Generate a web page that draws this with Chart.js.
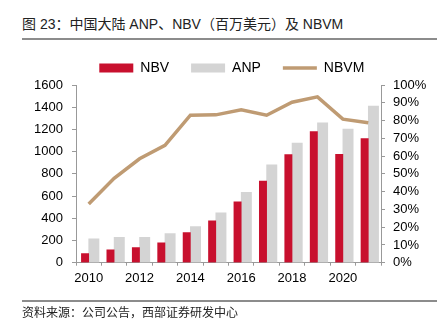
<!DOCTYPE html>
<html>
<head>
<meta charset="utf-8">
<script src="https://cdn.jsdelivr.net/npm/chart.js@4/dist/chart.umd.min.js"></script>
<style>
  html, body { margin: 0; padding: 0; background: #fff; }
  #wrap { position: relative; width: 446px; height: 334px; overflow: hidden; }
  #c { position: absolute; left: 0; top: 0; }
  .title { position: absolute; left: 22px; top: 16px; font: 14px "Liberation Sans", "Noto Sans CJK SC", sans-serif; line-height: 16px; color: #222; white-space: nowrap; }
  .rule { position: absolute; left: 22px; width: 415px; height: 2px; background: #8c8c8c; }
  .source { position: absolute; left: 22px; top: 305px; font: 12px "Liberation Sans", "Noto Sans CJK SC", sans-serif; line-height: 16px; color: #222; white-space: nowrap; }
</style>
</head>
<body>
<div id="wrap">
  <div class="title">图 23：中国大陆 ANP、NBV（百万美元）及 NBVM</div>
  <div class="rule" style="top:38px"></div>
  <canvas id="c" width="446" height="334"></canvas>
  <div class="rule" style="top:300px"></div>
  <div class="source">资料来源：公司公告，西部证券研发中心</div>
</div>
<script>
const years = ['2010','2011','2012','2013','2014','2015','2016','2017','2018','2019','2020','2021'];
const nbv  = [82, 116, 137, 180, 271, 378, 547, 736, 973, 1181, 976, 1117];
const anp  = [216, 228, 228, 262, 326, 450, 633, 882, 1077, 1259, 1204, 1411];
const nbvm = [33, 47.5, 58.5, 66, 83, 83.2, 86, 83, 90.3, 93.3, 80.8, 78.7];
const leftTicks = { min: 0, max: 1600, step: 200 };
const rightTicks = { min: 0, max: 100, step: 10 };

const RED = '#C8102E', GRAY = '#D4D4D4', TAN = '#BF9B73', AXIS = '#999999';
const tickFont = { family: '"Liberation Sans", Arial, sans-serif', size: 13 };

new Chart(document.getElementById('c'), {
  data: {
    labels: years,
    datasets: [
      { type: 'bar', label: 'NBV', data: nbv, backgroundColor: RED, yAxisID: 'y', barThickness: 7.3, pointStyle: 'rect', borderWidth: 0 },
      { type: 'bar', label: 'ANP', data: anp, backgroundColor: GRAY, yAxisID: 'y', barThickness: 10.3, pointStyle: 'rect', borderWidth: 0 },
      { type: 'line', label: 'NBVM', data: nbvm, borderColor: TAN, backgroundColor: TAN, borderWidth: 3.5, yAxisID: 'y1', pointRadius: 0, pointStyle: 'line', tension: 0, order: -1 }
    ]
  },
  options: {
    responsive: false,
    animation: false,
    layout: { padding: { top: 39, left: 17.6, right: 0, bottom: 0 } },
    plugins: {
      tooltip: { enabled: false },
      legend: {
        display: true,
        position: 'top',
        labels: {
          usePointStyle: true,
          pointStyleWidth: 34,
          boxWidth: 34,
          boxHeight: 9,
          padding: 22,
          color: '#000',
          font: { family: '"Liberation Sans", Arial, sans-serif', size: 14 },
          sort: (a, b) => a.datasetIndex - b.datasetIndex
        }
      }
    },
    datasets: { bar: { categoryPercentage: 0.692, barPercentage: 1 } },
    scales: {
      x: {
        type: 'category',
        offset: true,
        grid: { display: true, drawOnChartArea: false, drawTicks: true, tickLength: 3, color: AXIS, offset: true },
        border: { display: true, color: AXIS, width: 1 },
        ticks: { autoSkip: false, maxRotation: 0, padding: 5, color: '#000', font: tickFont,
          callback: function(v, i) { return i % 2 === 0 ? this.getLabelForValue(v) : ''; } },
        afterFit: s => { s.height = 334 - 262.7; }
      },
      y: {
        position: 'left',
        min: leftTicks.min, max: leftTicks.max,
        grid: { display: true, drawOnChartArea: false, drawTicks: true, tickLength: 4, color: AXIS },
        border: { display: true, color: AXIS, width: 1 },
        ticks: { stepSize: leftTicks.step, autoSkip: false, padding: 9, color: '#000', font: tickFont, callback: v => String(v) },
        afterFit: s => { s.width = 76 - 17.6; }
      },
      y1: {
        position: 'right',
        min: rightTicks.min, max: rightTicks.max,
        grid: { display: true, drawOnChartArea: false, drawTicks: true, tickLength: 4, color: AXIS },
        border: { display: true, color: AXIS, width: 1 },
        ticks: { stepSize: rightTicks.step, autoSkip: false, padding: 8, color: '#000', font: tickFont, callback: v => v + '%' },
        afterFit: s => { s.width = 446 - 381; }
      }
    }
  }
});
</script>
</body>
</html>
